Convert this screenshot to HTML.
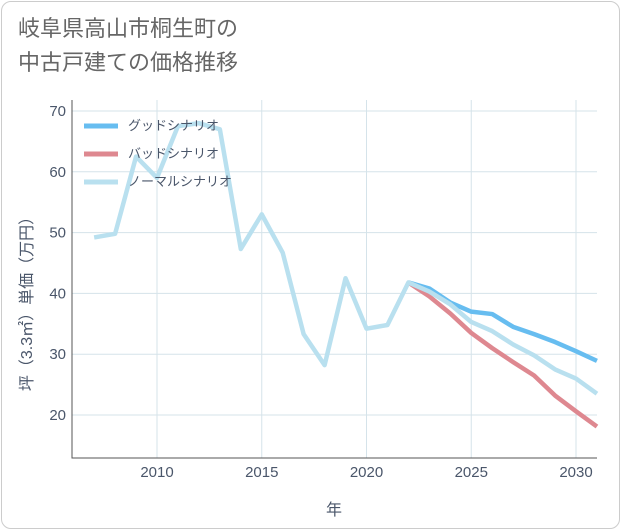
<!DOCTYPE html>
<html><head><meta charset="utf-8"><style>
body{margin:0;background:#fff;}
#card{position:absolute;left:1px;top:1px;width:617px;height:526px;border:1px solid #ccc;border-radius:10px;background:#fff;}
#title{position:absolute;left:18px;top:12px;font:22px "Liberation Sans","Noto Sans CJK JP",sans-serif;color:#666;line-height:34px;}
</style></head><body>
<div id="card"></div>
<div id="title">岐阜県高山市桐生町の<br>中古戸建ての価格推移</div>
<svg id="chart" width="621" height="530" style="position:absolute;left:0;top:0"></svg>
<script>
const years=[2007,2008,2009,2010,2011,2012,2013,2014,2015,2016,2017,2018,2019,2020,2021,2022,2023,2024,2025,2026,2027,2028,2029,2030,2031];
const normalVals=[49.2,49.8,62.5,59,67.5,68,67,47.3,53,46.7,33.3,28.2,42.5,34.2,34.8,41.8,40.3,38.2,35.3,33.8,31.6,29.8,27.5,26,23.5];
const goodYears=[2022,2023,2024,2025,2026,2027,2028,2029,2030,2031];
const goodVals=[41.8,40.8,38.5,37,36.6,34.5,33.3,32,30.5,28.9];
const badVals=[41.8,39.5,36.7,33.5,31,28.7,26.5,23.2,20.6,18.1];
const xTicks=[2010,2015,2020,2025,2030];
const yTicks=[20,30,40,50,60,70];
const L=72,R=597,T=100,B=458;
const x=v=>157+(v-2010)*(576-157)/20;
const y=v=>415-(v-20)*(415-111)/50;
const svg=document.getElementById('chart');
const NS='http://www.w3.org/2000/svg';
function mk(t,a){const e=document.createElementNS(NS,t);for(const k in a)e.setAttribute(k,a[k]);svg.appendChild(e);return e;}
const F='"Liberation Sans","Noto Sans CJK JP",sans-serif';
const TC='#4a566a';
for(const t of xTicks){const g=mk('line',{x1:x(t),x2:x(t),y1:T,y2:B,stroke:'#d5e3ea','stroke-width':1});

const l=mk('text',{x:x(t),y:477,'text-anchor':'middle','font-size':15,fill:TC,'font-family':F});l.textContent=t;
}
for(const t of yTicks){const g=mk('line',{x1:L,x2:R,y1:y(t),y2:y(t),stroke:'#d5e3ea','stroke-width':1});

const l=mk('text',{x:66,y:y(t)+5,'text-anchor':'end','font-size':15,fill:TC,'font-family':F});l.textContent=t;
}
const ax=mk('path',{d:`M${L} ${T}V${B}H${R}`,fill:'none',stroke:'#555','stroke-width':1});

function line(xs,vs,c,name){const p=mk('polyline',{points:xs.map((t,i)=>x(t)+','+y(vs[i])).join(' '),fill:'none',stroke:c,'stroke-width':4.5,'stroke-linejoin':'round'});
}
line(goodYears,goodVals,'#67bdf0','good-scenario-line');
line(goodYears,badVals,'#de8890','bad-scenario-line');
line(years,normalVals,'#b9e0ef','normal-scenario-line');
const leg=[['グッドシナリオ','#67bdf0'],['バッドシナリオ','#de8890'],['ノーマルシナリオ','#b9e0ef']];
leg.forEach((d,i)=>{const yy=126+i*28;
const s=mk('line',{x1:84,x2:118,y1:yy,y2:yy,stroke:d[1],'stroke-width':5});

const t=mk('text',{x:128,y:yy+4,'font-size':13,fill:TC,'font-family':F});t.textContent=d[0];
});
const xt=mk('text',{x:334,y:515,'text-anchor':'middle','font-size':16,fill:TC,'font-family':F});xt.textContent='年';

const yt=mk('text',{x:0,y:0,'text-anchor':'middle','font-size':16,fill:TC,'font-family':F,transform:'translate(32,300) rotate(-90)'});yt.textContent='坪（3.3㎡）単価（万円）';

</script>
</body></html>
